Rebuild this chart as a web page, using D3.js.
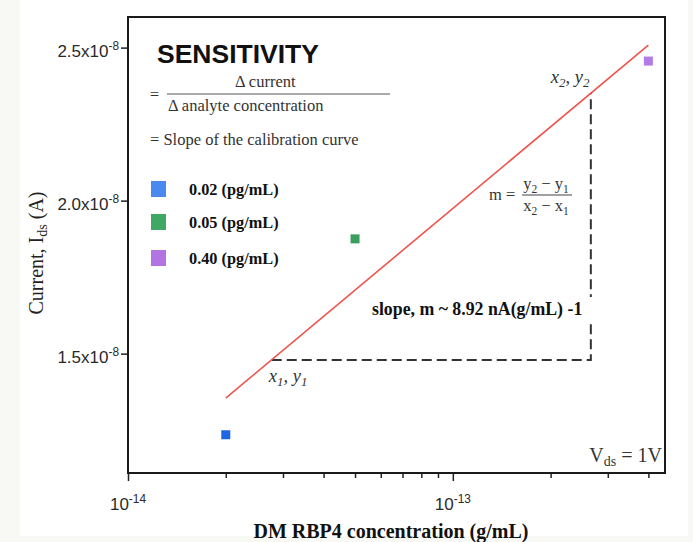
<!DOCTYPE html>
<html>
<head>
<meta charset="utf-8">
<script src="https://cdn.jsdelivr.net/npm/d3@7"></script>
<style>
  body { margin: 0; background: #fff; }
  svg { display: block; }
</style>
</head>
<body>
<div id="chart"></div>
<script>
let width = 693
  , height = 542;

// values
const concLabels = ['0.02 (pg/mL)', '0.05 (pg/mL)', '0.40 (pg/mL)'];
const concValues = [2e-14, 5e-14, 4e-13];
const currentValues = [1.235e-8, 1.875e-8, 2.456e-8];
const pointColors = ['#1f66e4', '#3a9e5c', '#b27ce6'];
const legendColors = ['#4a89ef', '#3fa865', '#b274e2'];

// calibration (fit) line end points
const fitX = [2e-14, 4e-13];
const fitY = [1.355e-8, 2.508e-8];

// slope triangle corners (x1,y1) and (x2,y2)
const triX = [2.77e-14, 2.66e-13];
const triY = [1.479e-8, 2.352e-8];

const yTicks = [1.5e-8, 2.0e-8, 2.5e-8];
const yTickLabels = ['1.5x10', '2.0x10', '2.5x10'];
const xMajor = [1e-14, 1e-13];
const xMajorExp = ['-14', '-13'];
const xMinor = [2e-14, 3e-14, 4e-14, 5e-14, 6e-14, 7e-14, 8e-14, 9e-14, 2e-13, 3e-13, 4e-13];

let plot = { left: 128, right: 665, top: 17, bottom: 473 };

var x = d3.scaleLog().domain([1e-14, 4.5e-13]).range([plot.left, plot.right]);
var y = d3.scaleLinear().domain([1.11e-8, 2.6e-8]).range([plot.bottom, plot.top]);

let svg = d3.select('#chart').append('svg').attr('width', width).attr('height', height);

// page margins (slightly off-white strips like the screenshot)
svg.append('rect').attr('width', width).attr('height', height).attr('fill', '#f8f8f4');
svg.append('rect').attr('x', 20).attr('y', 0).attr('width', 668).attr('height', 536).attr('fill', '#fff');

// text with sub/superscripts: parts = [[str, 'sub'|'sup'|null], ...]
function richText(g, px, py, parts) {
  let t = g.append('text').attr('x', px).attr('y', py);
  let shift = 0;
  parts.forEach(p => {
    let target = p[1] == 'sub' ? 4 : p[1] == 'sup' ? -7 : 0;
    let ts = t.append('tspan').attr('dy', target - shift).text(p[0]);
    if (p[1]) ts.attr('font-size', '0.7em');
    shift = target;
  });
  return t;
}

// axes
let xAxis = d3.axisBottom(x).tickValues(xMajor).tickSize(8).tickFormat('');
let xAxisMinor = d3.axisBottom(x).tickValues(xMinor).tickSize(5).tickFormat('');
let yAxis = d3.axisLeft(y).tickValues(yTicks).tickSize(7).tickFormat('');

let gx = svg.append('g').attr('transform', `translate(0,${plot.bottom})`).call(xAxis);
svg.append('g').attr('transform', `translate(0,${plot.bottom})`).call(xAxisMinor)
  .call(g => g.select('.domain').remove());
let gy = svg.append('g').attr('transform', `translate(${plot.left},0)`).call(yAxis);

svg.selectAll('.tick line').attr('stroke', '#222').attr('stroke-width', 1.5);
gx.select('.domain').remove();
gy.select('.domain').remove();

// frame box
svg.append('rect')
  .attr('x', plot.left).attr('y', plot.top)
  .attr('width', plot.right - plot.left).attr('height', plot.bottom - plot.top)
  .attr('fill', 'none').attr('stroke', '#1a1a1a').attr('stroke-width', 2);

// tick labels
let tickFont = g => g.attr('font-family', '"Liberation Sans", Arial, sans-serif').attr('font-size', 17).attr('fill', '#2a2a2a');

yTicks.forEach((v, i) => {
  richText(svg, 119, y(v) + 9, [[yTickLabels[i], null], ['-8', 'sup']])
    .call(tickFont).attr('text-anchor', 'end');
});
xMajor.forEach((v, i) => {
  richText(svg, x(v), 510, [['10', null], [xMajorExp[i], 'sup']])
    .call(tickFont).attr('text-anchor', 'middle');
});

// axis titles
svg.append('text')
  .attr('x', 391).attr('y', 538)
  .attr('text-anchor', 'middle')
  .attr('font-family', '"Liberation Serif", "Times New Roman", serif')
  .attr('font-weight', 'bold').attr('font-size', 20).attr('fill', '#111')
  .text('DM RBP4 concentration (g/mL)');

let yl = svg.append('g').attr('transform', 'translate(43,253) rotate(-90)');
richText(yl, 0, 0, [['Current, I', null], ['ds', 'sub'], [' (A)', null]])
  .attr('text-anchor', 'middle')
  .attr('font-family', '"Liberation Serif", "Times New Roman", serif')
  .attr('font-size', 20).attr('fill', '#222');

// slope triangle (dashed)
svg.append('path')
  .attr('d', d3.line()([[x(triX[0]), y(triY[0])], [x(triX[1]), y(triY[0])], [x(triX[1]), y(triY[1])]]))
  .attr('fill', 'none').attr('stroke', '#333').attr('stroke-width', 2)
  .attr('stroke-dasharray', '10,5');

// fit line
svg.append('line')
  .attr('x1', x(fitX[0])).attr('y1', y(fitY[0]))
  .attr('x2', x(fitX[1])).attr('y2', y(fitY[1]))
  .attr('stroke', '#f0534c').attr('stroke-width', 1.6);

// data points
let sq = 9;
svg.selectAll('rect.pt').data(concValues).enter()
  .append('rect').attr('class', 'pt')
  .attr('x', (d, i) => x(d) - sq / 2)
  .attr('y', (d, i) => y(currentValues[i]) - sq / 2)
  .attr('width', sq).attr('height', sq)
  .attr('fill', (d, i) => pointColors[i]);

// annotations
let serif = g => g.attr('font-family', '"Liberation Serif", "Times New Roman", serif').attr('fill', '#333');

svg.append('text').attr('x', 157).attr('y', 63)
  .attr('font-family', '"Liberation Sans", Arial, sans-serif')
  .attr('font-weight', 'bold').attr('font-size', 26.5).attr('fill', '#111')
  .text('SENSITIVITY');

svg.append('text').attr('x', 150).attr('y', 100).attr('font-size', 16).call(serif).text('=');
svg.append('text').attr('x', 235).attr('y', 87).attr('font-size', 16.5).call(serif).text('\u0394 current');
svg.append('line').attr('x1', 167).attr('x2', 390).attr('y1', 94).attr('y2', 94)
  .attr('stroke', '#555').attr('stroke-width', 1);
svg.append('text').attr('x', 168).attr('y', 111).attr('font-size', 16.5).call(serif).text('\u0394 analyte concentration');
svg.append('text').attr('x', 150).attr('y', 145).attr('font-size', 16.5).call(serif).text('= Slope of the calibration curve');

// legend
let legend = svg.append('g');
let legendY = [189, 222, 258];
concLabels.forEach((lab, i) => {
  legend.append('rect').attr('x', 151).attr('y', legendY[i] - 8).attr('width', 15).attr('height', 16)
    .attr('fill', legendColors[i]);
  legend.append('text').attr('x', 189).attr('y', legendY[i] + 6)
    .attr('font-family', '"Liberation Serif", "Times New Roman", serif')
    .attr('font-weight', 'bold').attr('font-size', 16.3).attr('fill', '#111')
    .text(lab);
});

// point labels on the triangle
richText(svg, x(triX[0]) - 3, y(triY[0]) + 22, [['x', null], ['1', 'sub'], [', y', null], ['1', 'sub']])
  .call(serif).attr('font-style', 'italic').attr('font-size', 18.5);
richText(svg, x(triX[1]) - 40, y(triY[1]) - 10, [['x', null], ['2', 'sub'], [', y', null], ['2', 'sub']])
  .call(serif).attr('font-style', 'italic').attr('font-size', 18.5);

// m = (y2 - y1)/(x2 - x1)
svg.append('text').attr('x', 489).attr('y', 200).attr('font-size', 16.5).call(serif).text('m =');
richText(svg, 546, 189, [['y', null], ['2', 'sub'], [' \u2212 y', null], ['1', 'sub']])
  .call(serif).attr('font-size', 16.5).attr('text-anchor', 'middle');
svg.append('line').attr('x1', 522).attr('x2', 572).attr('y1', 195).attr('y2', 195)
  .attr('stroke', '#444').attr('stroke-width', 1);
richText(svg, 546, 211, [['x', null], ['2', 'sub'], [' \u2212 x', null], ['1', 'sub']])
  .call(serif).attr('font-size', 16.5).attr('text-anchor', 'middle');

// slope value box
svg.append('rect').attr('x', 352).attr('y', 297).attr('width', 242).attr('height', 24).attr('fill', '#fff');
svg.append('text').attr('x', 372).attr('y', 315)
  .attr('font-family', '"Liberation Serif", "Times New Roman", serif')
  .attr('font-weight', 'bold').attr('font-size', 17.8).attr('fill', '#111')
  .text('slope, m ~ 8.92 nA(g/mL) -1');

// V_ds = 1V
richText(svg, 662, 462, [['V', null], ['ds', 'sub'], [' = 1V', null]])
  .call(serif).attr('font-size', 20).attr('text-anchor', 'end');
</script>
</body>
</html>
